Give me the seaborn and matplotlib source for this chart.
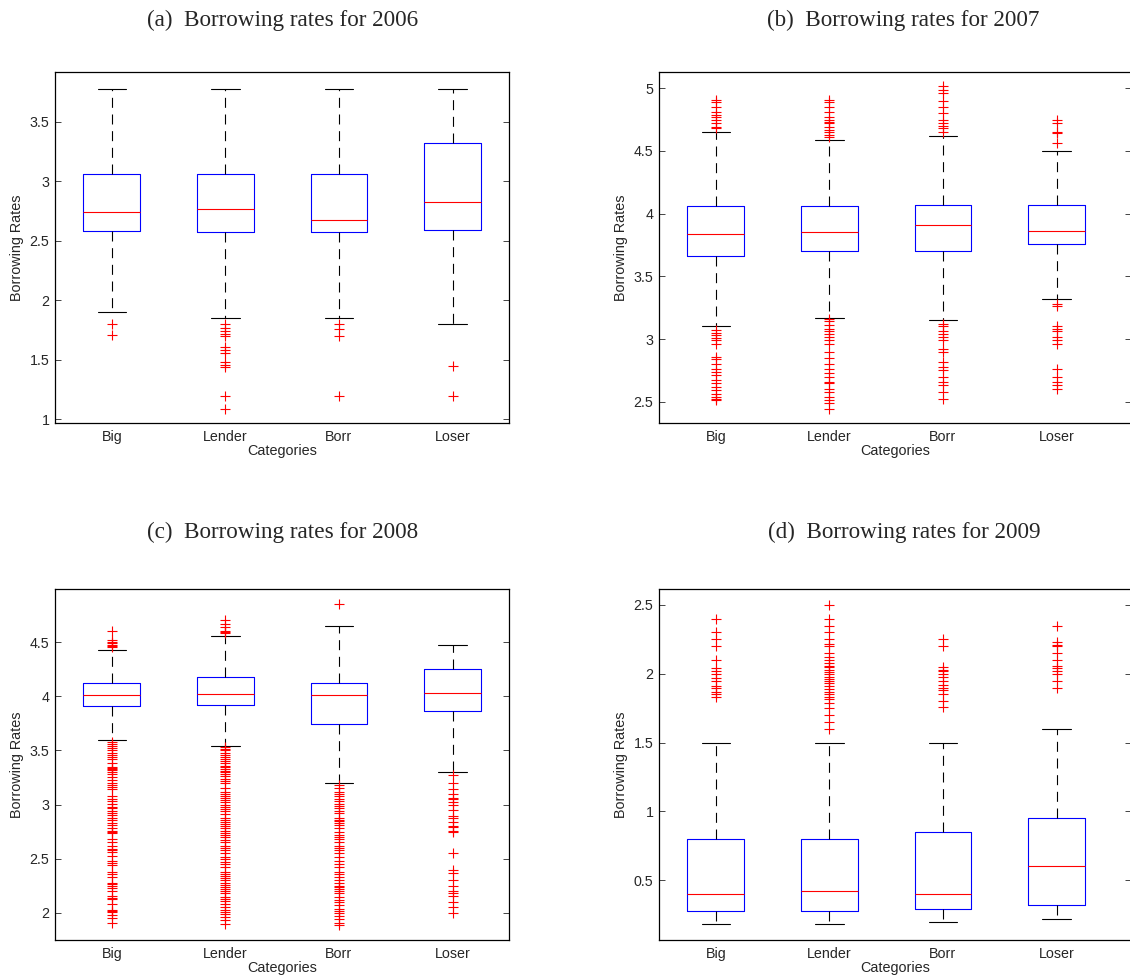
# Box plots of borrowing rates per category, one panel per year (MATLAB look)
import matplotlib as mpl
import matplotlib.pyplot as plt
import numpy as np
import pandas as pd
import seaborn as sns

# Data
categories = ['Big', 'Lender', 'Borr', 'Loser']
titles = ['(a)  Borrowing rates for 2006', '(b)  Borrowing rates for 2007',
          '(c)  Borrowing rates for 2008', '(d)  Borrowing rates for 2009']

# 2006
whislo_2006 = [1.90, 1.85, 1.85, 1.80]
q1_2006 = [2.58, 2.575, 2.575, 2.595]
med_2006 = [2.745, 2.77, 2.68, 2.83]
q3_2006 = [3.06, 3.065, 3.06, 3.32]
whishi_2006 = [3.78, 3.78, 3.78, 3.78]
out_2006 = {'Big': [1.80, 1.71],
            'Lender': [1.80, 1.77, 1.74, 1.72, 1.70, 1.61, 1.58, 1.56, 1.48, 1.46, 1.44, 1.20, 1.09],
            'Borr': [1.80, 1.76, 1.70, 1.20],
            'Loser': [1.45, 1.20]}

# 2007
whislo_2007 = [3.10, 3.17, 3.15, 3.32]
q1_2007 = [3.665, 3.70, 3.70, 3.76]
med_2007 = [3.84, 3.85, 3.91, 3.86]
q3_2007 = [4.06, 4.06, 4.07, 4.07]
whishi_2007 = [4.65, 4.59, 4.62, 4.50]
out_2007 = {'Big': [4.91, 4.89, 4.85, 4.81, 4.79, 4.77, 4.75, 4.72, 4.69, 4.68,
                    3.07, 3.05, 3.03, 3.01, 2.99, 2.96, 2.86, 2.84, 2.80, 2.76,
                    2.74, 2.71, 2.67, 2.65, 2.62, 2.59, 2.56, 2.54, 2.52, 2.51],
            'Lender': [4.91, 4.89, 4.85, 4.81, 4.77, 4.75, 4.73, 4.72, 4.69, 4.67, 4.65, 4.63, 4.61,
                       3.16, 3.14, 3.11, 3.08, 3.06, 3.04, 3.02, 2.99, 2.96, 2.90, 2.85, 2.80,
                       2.76, 2.73, 2.70, 2.66, 2.65, 2.60, 2.58, 2.54, 2.51, 2.49, 2.44],
            'Borr': [5.02, 4.99, 4.96, 4.90, 4.85, 4.80, 4.75, 4.72, 4.70, 4.68, 4.65,
                     3.12, 3.10, 3.06, 3.04, 3.02, 2.99, 2.92, 2.90, 2.82, 2.78, 2.75,
                     2.70, 2.66, 2.63, 2.58, 2.52],
            'Loser': [4.75, 4.72, 4.65, 4.64, 4.56,
                      3.28, 3.26, 3.10, 3.08, 3.06, 3.02, 2.99, 2.96, 2.76, 2.70, 2.66, 2.63, 2.60]}

# 2008
whislo_2008 = [3.60, 3.54, 3.20, 3.30]
q1_2008 = [3.91, 3.92, 3.745, 3.86]
med_2008 = [4.01, 4.02, 4.01, 4.03]
q3_2008 = [4.12, 4.18, 4.12, 4.25]
whishi_2008 = [4.43, 4.56, 4.65, 4.47]
out_2008 = {'Big': [4.60, 4.52, 4.50, 4.49, 4.47, 4.46, 4.45,
                    3.58, 3.56, 3.54, 3.52, 3.50, 3.48, 3.46, 3.44, 3.42, 3.38, 3.35, 3.34,
                    3.33, 3.32, 3.30, 3.28, 3.25, 3.23, 3.20, 3.18, 3.16, 3.14, 3.08, 3.05,
                    3.03, 3.01, 2.98, 2.97, 2.94, 2.92, 2.90, 2.88, 2.86, 2.83, 2.81, 2.78,
                    2.76, 2.75, 2.74, 2.68, 2.65, 2.62, 2.59, 2.58, 2.56, 2.53, 2.48, 2.46,
                    2.44, 2.38, 2.36, 2.33, 2.28, 2.27, 2.25, 2.23, 2.20, 2.16, 2.14, 2.13,
                    2.08, 2.03, 2.02, 2.01, 1.98, 1.95, 1.91],
            'Lender': [4.70, 4.67, 4.64, 4.60, 4.59, 4.58,
                       3.53, 3.51, 3.50, 3.48, 3.46, 3.44, 3.42, 3.40, 3.38, 3.36, 3.35, 3.33,
                       3.31, 3.30, 3.28, 3.26, 3.24, 3.22, 3.20, 3.15, 3.12, 3.10, 3.08, 3.06,
                       3.04, 3.02, 3.00, 2.98, 2.96, 2.94, 2.91, 2.88, 2.86, 2.84, 2.82, 2.80,
                       2.78, 2.76, 2.74, 2.72, 2.70, 2.67, 2.65, 2.62, 2.60, 2.58, 2.55, 2.52,
                       2.50, 2.47, 2.45, 2.42, 2.38, 2.36, 2.34, 2.32, 2.30, 2.28, 2.26, 2.24,
                       2.22, 2.20, 2.18, 2.15, 2.13, 2.11, 2.08, 2.05, 2.03, 2.01, 1.99, 1.96,
                       1.93, 1.90],
            'Borr': [4.85,
                     3.18, 3.15, 3.12, 3.10, 3.08, 3.05, 3.03, 3.01, 2.99, 2.97, 2.94, 2.92,
                     2.88, 2.86, 2.85, 2.83, 2.81, 2.78, 2.75, 2.72, 2.70, 2.68, 2.65, 2.62,
                     2.60, 2.58, 2.55, 2.52, 2.48, 2.45, 2.42, 2.38, 2.36, 2.33, 2.30, 2.28,
                     2.25, 2.24, 2.22, 2.20, 2.18, 2.15, 2.12, 2.10, 2.07, 2.04, 2.02, 2.00,
                     1.97, 1.94, 1.91, 1.89],
            'Loser': [3.27, 3.20, 3.14, 3.10, 3.06, 3.05, 3.02, 3.00, 2.95, 2.89, 2.88, 2.84,
                      2.80, 2.79, 2.76, 2.75, 2.55, 2.40, 2.37, 2.30, 2.25, 2.20, 2.18, 2.16,
                      2.10, 2.05, 2.00]}

# 2009
whislo_2009 = [0.18, 0.18, 0.20, 0.22]
q1_2009 = [0.28, 0.28, 0.29, 0.32]
med_2009 = [0.40, 0.42, 0.40, 0.60]
q3_2009 = [0.80, 0.80, 0.85, 0.95]
whishi_2009 = [1.50, 1.50, 1.50, 1.60]
out_2009 = {'Big': [2.40, 2.30, 2.25, 2.20, 2.10, 2.04, 2.02, 2.00, 1.97, 1.95, 1.91, 1.90,
                    1.87, 1.85, 1.83],
            'Lender': [2.50, 2.40, 2.35, 2.30, 2.25, 2.22, 2.20, 2.15, 2.12, 2.10, 2.08, 2.06,
                       2.05, 2.03, 2.01, 2.00, 1.98, 1.96, 1.95, 1.93, 1.91, 1.89, 1.87, 1.85,
                       1.83, 1.82, 1.79, 1.75, 1.70, 1.65, 1.60],
            'Borr': [2.25, 2.20, 2.05, 2.03, 2.02, 2.00, 1.98, 1.95, 1.92, 1.90, 1.88, 1.85,
                     1.80, 1.76],
            'Loser': [2.35, 2.23, 2.21, 2.20, 2.15, 2.10, 2.06, 2.04, 2.02, 2.00, 1.95, 1.90]}

panels = [
    (whislo_2006, q1_2006, med_2006, q3_2006, whishi_2006, out_2006),
    (whislo_2007, q1_2007, med_2007, q3_2007, whishi_2007, out_2007),
    (whislo_2008, q1_2008, med_2008, q3_2008, whishi_2008, out_2008),
    (whislo_2009, q1_2009, med_2009, q3_2009, whishi_2009, out_2009),
]
ylims = [(0.97, 3.92), (2.33, 5.13), (1.75, 4.99), (0.066, 2.616)]
yticks = [np.arange(1, 3.51, 0.5), np.arange(2.5, 5.01, 0.5),
          np.arange(2, 4.51, 0.5), np.arange(0.5, 2.51, 0.5)]

# Layout in pixels (figure is 1130 x 980)
W, H = 1130, 980
axes_px = [(55, 72, 454), (659, 72, 472), (55, 589, 454), (659, 589, 472)]  # left, top, width
axes_h = 351
title_px = [(283, 20), (903, 20), (283, 532), (904, 532)]

sns.set_style('white')
plt.rcParams['font.family'] = ['Liberation Sans', 'DejaVu Sans']
mpl.rc('font', size=10)
mpl.rc('lines', scale_dashes=True)

fig = plt.figure(figsize=(W / 100, H / 100), dpi=100)

for i, (wlo, q1, med, q3, whi, outl) in enumerate(panels):
    left, top, width = axes_px[i]
    ax = fig.add_axes([left / W, 1 - (top + axes_h) / H, width / W, axes_h / H])

    # outliers through seaborn
    dfOut = pd.DataFrame([(c, v) for c in categories for v in outl[c]], columns=['Category', 'Rate'])
    sns.stripplot(data=dfOut, x='Category', y='Rate', order=categories, jitter=False,
                  marker='+', color='red', size=7, linewidth=0.8, ax=ax, zorder=3)

    stats = [dict(whislo=wlo[k], q1=q1[k], med=med[k], q3=q3[k], whishi=whi[k], fliers=[])
             for k in range(len(categories))]
    ax.bxp(stats, positions=range(len(categories)), widths=0.5, showfliers=False,
           patch_artist=False,
           boxprops=dict(color='blue', linewidth=0.8),
           medianprops=dict(color='red', linewidth=0.8),
           whiskerprops=dict(color='black', linewidth=0.8, linestyle=(0, (9, 6))),
           capprops=dict(color='black', linewidth=0.8),
           capwidths=0.25)

    ax.set_xlim(-0.5, -0.5 + width / 113.6)
    ax.set_ylim(*ylims[i])
    ax.set_yticks(yticks[i])
    ax.yaxis.set_major_formatter(mpl.ticker.FormatStrFormatter('%g'))
    ax.set_xticks(range(len(categories)))
    ax.set_xticklabels(categories)
    ax.tick_params(axis='y', direction='in', length=4, width=0.6, left=True, right=True,
                   labelsize=10.3, pad=4)
    ax.tick_params(axis='x', length=0, labelsize=10.3, pad=5)
    for s in ax.spines.values():
        s.set_visible(True)
        s.set_color('black')
        s.set_linewidth(0.9)
    ax.set_xlabel('Categories', fontsize=10.4, labelpad=0)
    ax.set_ylabel('Borrowing Rates', fontsize=10.4, labelpad=4)

    tx, ty = title_px[i]
    fig.text(tx / W, 1 - ty / H, titles[i], ha='center', va='center',
             family=['Liberation Serif', 'DejaVu Serif'], fontsize=16.7)

fig.savefig('out.png', dpi=100)
